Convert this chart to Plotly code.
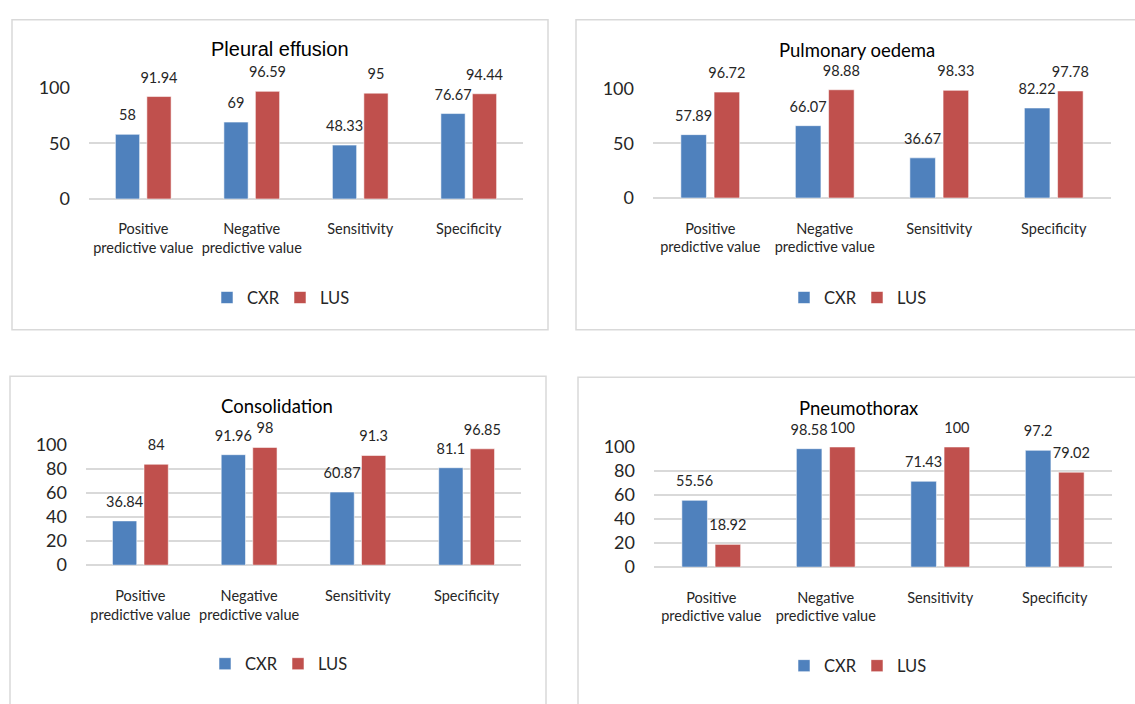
import plotly.graph_objects as go

# ---- data -------------------------------------------------------------
categories = ["PPV", "NPV", "Sensitivity", "Specificity"]
tick_labels = ["Positive<br>predictive value", "Negative<br>predictive value",
               "Sensitivity", "Specificity"]
series_names = ["CXR", "LUS"]

titles = ["Pleural effusion", "Pulmonary oedema", "Consolidation", "Pneumothorax"]

pleural_cxr = [58, 69, 48.33, 76.67]
pleural_lus = [91.94, 96.59, 95, 94.44]

oedema_cxr = [57.89, 66.07, 36.67, 82.22]
oedema_lus = [96.72, 98.88, 98.33, 97.78]

consolidation_cxr = [36.84, 91.96, 60.87, 81.1]
consolidation_lus = [84, 98, 91.3, 96.85]

pneumothorax_cxr = [55.56, 98.58, 71.43, 97.2]
pneumothorax_lus = [18.92, 100, 100, 79.02]

y_dticks = [50, 50, 20, 20]

# ---- styling ------------------------------------------------------------
W, H = 1135, 704
BLUE, RED = "#4F81BD", "#C0504D"
GRID = "#D9D9D9"
FONT = "Lato"
TXT = "#262626"

def fx(p):
    return p / W

def fy(p):
    return 1 - p / H

# panel geometry in pixels: box, plot area, title centre, legend centre
panels = [
    dict(box=(12, 8, 548, 328), plot=(89, 78, 523, 193), title=(280, 38), legend=(280, 295),
         tfont="Liberation Sans", tsize=20),
    dict(box=(576, 8, 1145, 328), plot=(653, 79, 1111, 192), title=(857, 39), legend=(857, 295),
         tfont=FONT, tsize=18.5),
    dict(box=(10, 376, 546, 715), plot=(86, 447, 521, 571), title=(277, 407), legend=(278, 673),
         tfont=FONT, tsize=18.5),
    dict(box=(578, 377, 1145, 715), plot=(654, 449, 1112, 573), title=(858, 409), legend=(857, 675),
         tfont=FONT, tsize=18.5),
]

values = [
    (pleural_cxr, pleural_lus),
    (oedema_cxr, oedema_lus),
    (consolidation_cxr, consolidation_lus),
    (pneumothorax_cxr, pneumothorax_lus),
]

fig = go.Figure()
layout = dict(
    width=W, height=H, margin=dict(l=0, r=0, t=0, b=0),
    paper_bgcolor="white", plot_bgcolor="white",
    barmode="group", bargap=0.42, bargroupgap=0.23,
    scattermode="group", scattergap=0.42,
    showlegend=True,
    shapes=[], annotations=[],
    font=dict(family=FONT, color=TXT),
)

for i, (p, (cxr, lus)) in enumerate(zip(panels, values)):
    n = i + 1
    xa = "x" if n == 1 else f"x{n}"
    ya = "y" if n == 1 else f"y{n}"
    lg = "legend" if n == 1 else f"legend{n}"

    for name, vals, color in ((series_names[0], cxr, BLUE), (series_names[1], lus, RED)):
        fig.add_trace(go.Bar(
            x=categories, y=vals, name=name, xaxis=xa, yaxis=ya,
            marker=dict(color=color, line=dict(color="rgba(255,255,255,0.55)", width=1)),
            offsetgroup=name, legend=lg, showlegend=True,
        ))
        # value labels above each bar
        fig.add_trace(go.Scatter(
            x=categories, y=vals, xaxis=xa, yaxis=ya, mode="markers+text",
            text=[f"{v:g}" for v in vals], textposition="top center",
            textfont=dict(family=FONT, size=14.5, color=TXT),
            marker=dict(size=15, color="rgba(0,0,0,0)"),
            offsetgroup=name, cliponaxis=False, showlegend=False, hoverinfo="skip",
        ))

    x0, y0, x1, y1 = p["plot"]
    axkey = "xaxis" if n == 1 else f"xaxis{n}"
    aykey = "yaxis" if n == 1 else f"yaxis{n}"
    layout[axkey] = dict(
        domain=[fx(x0), fx(x1)], anchor=ya, type="category",
        tickvals=categories, ticktext=tick_labels,
        showgrid=False, showline=False, zeroline=False, ticks="",
        tickfont=dict(family=FONT, size=14.5, color=TXT),
        ticklabelstandoff=20, fixedrange=True,
    )
    layout[aykey] = dict(
        domain=[fy(y1), fy(y0)], anchor=xa, range=[0, 100],
        dtick=y_dticks[i], tick0=0,
        showgrid=True, gridcolor=GRID, gridwidth=1.5,
        zeroline=True, zerolinecolor=GRID, zerolinewidth=1.5,
        showline=False, ticks="",
        tickfont=dict(family=FONT, size=18, color=TXT),
        ticklabelstandoff=18, fixedrange=True,
    )

    bx0, by0, bx1, by1 = p["box"]
    layout["shapes"].append(dict(
        type="rect", xref="paper", yref="paper",
        x0=fx(bx0), x1=fx(bx1), y0=fy(by1), y1=fy(by0),
        line=dict(color=GRID, width=1.5), fillcolor="rgba(0,0,0,0)", layer="below",
    ))

    tx, ty = p["title"]
    layout["annotations"].append(dict(
        text=titles[i], xref="paper", yref="paper", x=fx(tx), y=fy(ty),
        xanchor="center", yanchor="middle", showarrow=False,
        font=dict(family=p["tfont"], size=p["tsize"], color="#000000"),
    ))

    lx, ly = p["legend"]
    layout[lg] = dict(
        orientation="h", x=fx(lx), y=fy(ly), xanchor="center", yanchor="middle",
        xref="paper", yref="paper", bgcolor="rgba(0,0,0,0)",
        font=dict(family=FONT, size=16.5, color=TXT), itemwidth=30,
        entrywidth=28, entrywidthmode="pixels",
        itemclick=False, itemdoubleclick=False,
    )

fig.update_layout(**layout)
fig.write_html(
    "out.html",
    config={"displayModeBar": False},
    post_script="document.body.style.margin = '0'; document.body.style.overflow = 'hidden';",
)
